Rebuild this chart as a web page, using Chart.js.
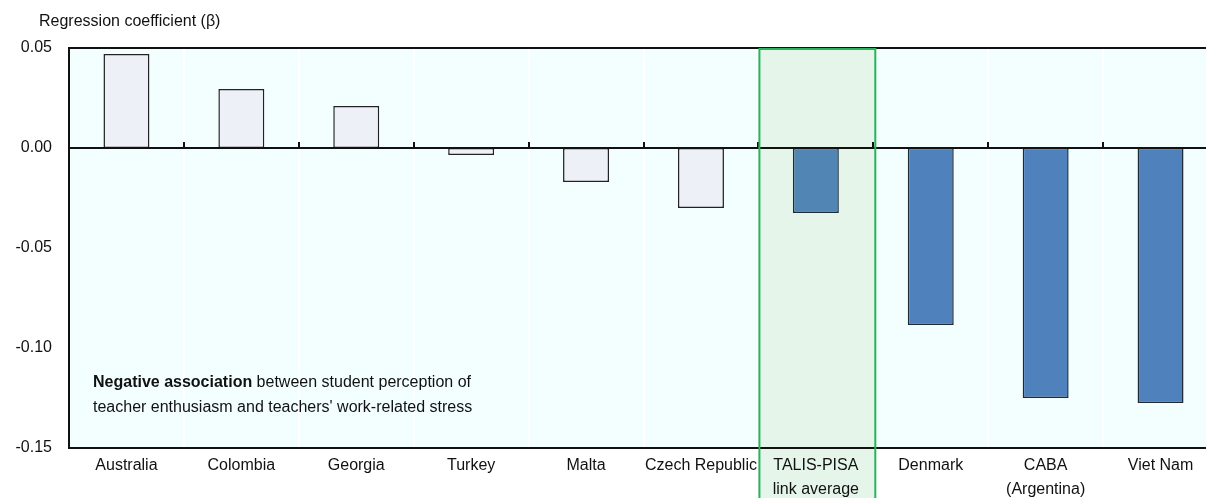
<!DOCTYPE html>
<html>
<head>
<meta charset="utf-8">
<script src="https://cdn.jsdelivr.net/npm/chart.js@4/dist/chart.umd.min.js"></script>
<style>
  html, body { margin: 0; padding: 0; background: #fff; overflow: hidden; }
  #wrap { position: relative; width: 1218px; height: 498px; }
</style>
</head>
<body>
<div id="wrap"><canvas id="chart"></canvas></div>
<script>
// --- data ---
const categories = ['Australia', 'Colombia', 'Georgia', 'Turkey', 'Malta', 'Czech Republic',
  ['TALIS-PISA', 'link average'], 'Denmark', ['CABA', '(Argentina)'], 'Viet Nam'];
const coefValues = [0.047, 0.0295, 0.021, -0.0035, -0.017, -0.030, -0.0325, -0.0885, -0.125, -0.1275];
const yTicks = [-0.15, -0.10, -0.05, 0.00, 0.05];
const axisTitle = 'Regression coefficient (\u03B2)';
const highlightIndex = 6;

// 棒の色: 正/小さい値は薄色、平均は別色
const fillColors = ['#eef0f8', '#eef0f8', '#eef0f8', '#eef0f8', '#eef0f8', '#eef0f8',
  '#5185b3', '#4f81bd', '#4f81bd', '#4f81bd'];
const edgeColors = ['#222', '#222', '#222', '#222', '#222', '#222',
  '#1e2a36', '#1e2a36', '#1e2a36', '#1e2a36'];

const FONT = '"Liberation Sans", Arial, sans-serif';

// --- 背景・枠・注釈を描くプラグイン ---
const decorPlugin = {
  id: 'decor',
  beforeDraw(chart) {
    const { ctx, chartArea: a, scales: { x } } = chart;
    const step = x.getPixelForValue(1) - x.getPixelForValue(0);
    ctx.save();
    ctx.fillStyle = '#f3ffff';
    ctx.fillRect(a.left, a.top, a.right - a.left, a.bottom - a.top);
    // white category separators
    ctx.strokeStyle = '#ffffff';
    ctx.lineWidth = 2;
    for (let i = 1; i < categories.length; i++) {
      const px = Math.round(x.getPixelForValue(i) - step / 2);
      ctx.beginPath();
      ctx.moveTo(px, a.top);
      ctx.lineTo(px, a.bottom);
      ctx.stroke();
    }
    // highlight box fill
    const hx0 = x.getPixelForValue(highlightIndex) - step / 2 + 1;
    const hx1 = x.getPixelForValue(highlightIndex) + step / 2 + 2;
    ctx.fillStyle = '#e5f5ea';
    ctx.fillRect(hx0, a.top, hx1 - hx0, chart.height - a.top);
    ctx.restore();
  },
  afterDatasetsDraw(chart) {
    const { ctx, chartArea: a, scales: { x, y } } = chart;
    const step = x.getPixelForValue(1) - x.getPixelForValue(0);
    const y0 = Math.round(y.getPixelForValue(0));
    ctx.save();
    // zero line + ticks
    ctx.strokeStyle = '#111';
    ctx.lineWidth = 2;
    ctx.beginPath();
    ctx.moveTo(a.left, y0);
    ctx.lineTo(a.right, y0);
    ctx.stroke();
    for (let i = 1; i < categories.length; i++) {
      const px = Math.round(x.getPixelForValue(i) - step / 2);
      ctx.beginPath();
      ctx.moveTo(px, y0);
      ctx.lineTo(px, y0 - 6);
      ctx.stroke();
    }
    // top border
    ctx.beginPath();
    ctx.moveTo(a.left, a.top);
    ctx.lineTo(a.right, a.top);
    ctx.stroke();
    // highlight box border
    const hx0 = x.getPixelForValue(highlightIndex) - step / 2 + 1;
    const hx1 = x.getPixelForValue(highlightIndex) + step / 2 + 2;
    ctx.strokeStyle = '#27b45a';
    ctx.lineWidth = 2;
    ctx.strokeRect(hx0, a.top + 1, hx1 - hx0, chart.height);
    // axis title
    ctx.fillStyle = '#111';
    ctx.font = '16px ' + FONT;
    ctx.textBaseline = 'alphabetic';
    ctx.fillText(axisTitle, 39, 26);
    // annotation
    const tx = 93;
    ctx.font = 'bold 16px ' + FONT;
    const boldPart = 'Negative association';
    ctx.fillText(boldPart, tx, 387);
    const w = ctx.measureText(boldPart).width;
    ctx.font = '16px ' + FONT;
    ctx.fillText(' between student perception of', tx + w, 387);
    ctx.fillText("teacher enthusiasm and teachers' work-related stress", tx, 412);
    ctx.restore();
  }
};

new Chart(document.getElementById('chart'), {
  type: 'bar',
  data: {
    labels: categories,
    datasets: [{
      data: coefValues,
      backgroundColor: fillColors,
      borderColor: edgeColors,
      borderWidth: 1.5,
      borderSkipped: false,
      barPercentage: 0.4,
      categoryPercentage: 1.0
    }]
  },
  options: {
    responsive: true,
    maintainAspectRatio: false,
    animation: false,
    layout: { padding: { top: 48, right: 0, left: 0, bottom: 0 } },
    plugins: { legend: { display: false }, tooltip: { enabled: false } },
    scales: {
      x: {
        grid: { display: false, drawTicks: false },
        border: { display: true, color: '#111', width: 2 },
        ticks: { color: '#111', font: { family: FONT, size: 16, lineHeight: 1.5 }, padding: 6, maxRotation: 0, autoSkip: false },
        afterFit(scale) { scale.height = 50; }
      },
      y: {
        min: -0.15,
        max: 0.05,
        afterBuildTicks(scale) { scale.ticks = yTicks.map(v => ({ value: v })); },
        grid: { display: false, drawTicks: false },
        border: { display: true, color: '#111', width: 2 },
        ticks: {
          color: '#111',
          font: { family: FONT, size: 16 },
          padding: 17,
          callback: v => Number(v).toFixed(2)
        },
        afterFit(scale) { scale.width = 69; }
      }
    }
  },
  plugins: [decorPlugin]
});
</script>
</body>
</html>
